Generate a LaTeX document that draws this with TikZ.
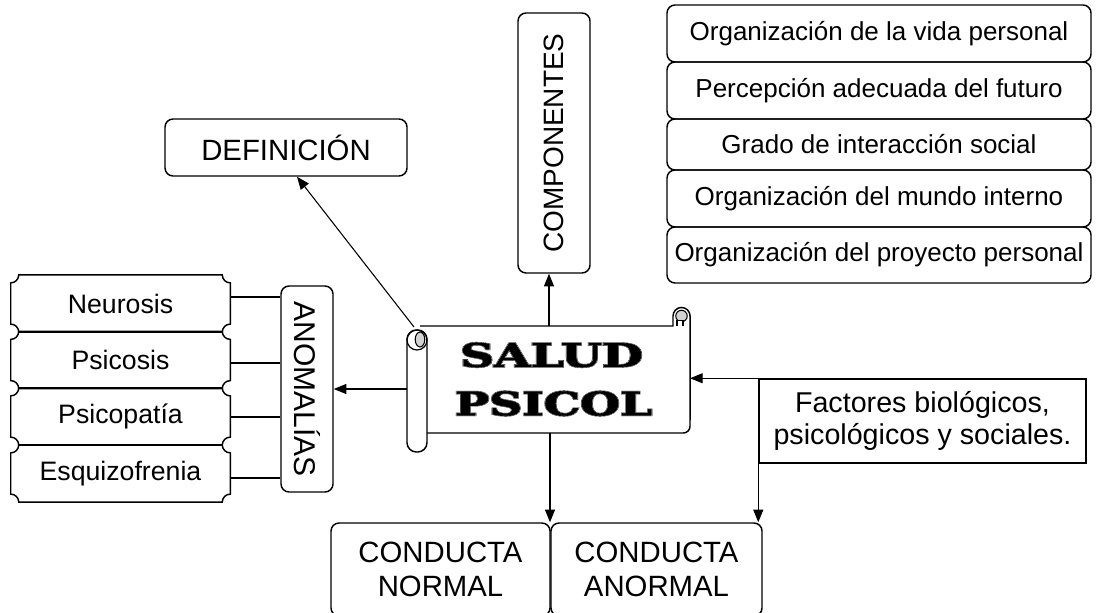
\documentclass[tikz,border=0pt]{standalone}
\usepackage{fontspec}
\setmainfont{Liberation Sans}
\newfontfamily\scrollfont{DejaVu Serif}
\usetikzlibrary{arrows.meta}
\newcommand\sclayer[2]{\scrollfont\bfseries\addfontfeature{FakeBold=#1}#2}
\newcommand\scrolltext[3]{%
  \resizebox{#1}{#2}{\sclayer{5}{#3}}%
  \llap{\resizebox{#1}{#2}{\color{white}\sclayer{3}{#3}}}%
  \llap{\resizebox{#1}{#2}{\sclayer{2}{#3}}}}
\begin{document}
\begin{tikzpicture}[x=0.75pt,y=-0.75pt,
  boxline/.style={line width=1.1pt},
  rbox/.style={draw, line width=1.1pt, rounded corners=6pt, inner sep=0pt, align=center},
  plainbox/.style={inner sep=0pt, align=center},
  bigfont/.style={font=\fontsize{22}{25}\selectfont},
  rightfont/.style={font=\fontsize{19.5}{22}\selectfont},
  leftfont/.style={font=\fontsize{20}{23}\selectfont},
  rightrow/.style={rbox, rightfont, minimum width=318pt},
  leftrow/.style={plainbox, leftfont, minimum width=164.25pt, minimum height=42.5pt},
  conn/.style={line width=0.8pt},
  arr/.style={conn,-{Triangle[length=9.5pt,width=7.5pt]}},
]
\useasboundingbox (0,0) rectangle (1099,613);

% ---- boxes ----
\node[rbox, bigfont, minimum width=181.5pt, minimum height=42.75pt] (defn) at (286,147.5) {DEFINICIÓN};
\node[rbox, minimum width=54pt, minimum height=195pt] (comp) at (554,143)
  {\rotatebox{90}{\fontsize{21}{24}\selectfont COMPONENTES}};
\node[rbox, minimum width=39pt, minimum height=154.5pt] (anom) at (307,389)
  {\rotatebox{-90}{\fontsize{22.5}{25}\selectfont ANOMALÍAS}};

\node[rightrow, minimum height=42.75pt] (r1) at (879,33.5) {Organización de la vida personal};
\node[rightrow, minimum height=42.75pt] (r2) at (879,90.5) {Percepción adecuada del futuro};
\node[rightrow, minimum height=38.25pt] (r3) at (879,144.5) {Grado de interacción social};
\node[rightrow, minimum height=42.75pt] (r4) at (879,198.5) {Organización del mundo interno};
\node[rightrow, minimum height=42pt] (r5) at (879,255) {Organización del proyecto personal};

\node[leftrow] (l1) at (120.5,303.5) {Neurosis};
\node[leftrow] (l2) at (120.5,360) {Psicosis};
\node[leftrow] (l3) at (120.5,416.5) {Psicopatía};
\node[leftrow] (l4) at (120.5,473.5) {Esquizofrenia};
\foreach \n in {l1,l2,l3,l4}{
  \draw[boxline] ([xshift=6pt]\n.north west) -- ([xshift=-6pt]\n.north east)
    arc[start angle=180,end angle=270,radius=6pt]
    -- ([yshift=6pt]\n.south east)
    arc[start angle=90,end angle=180,radius=6pt]
    -- ([xshift=6pt]\n.south west)
    arc[start angle=0,end angle=90,radius=6pt]
    -- ([yshift=-6pt]\n.north west)
    arc[start angle=270,end angle=360,radius=6pt] -- cycle;
}

\node[draw, line width=1.1pt, inner sep=0pt, align=center, minimum width=245.25pt, minimum height=63pt,
  font=\fontsize{21.5}{24}\selectfont] (fac) at (922.5,421)
  {Factores biológicos,\\psicológicos y sociales.};

\node[rbox, bigfont, minimum width=164.25pt, minimum height=69.75pt] (normal) at (440.5,569.5) {CONDUCTA\\NORMAL};
\node[rbox, bigfont, minimum width=158.25pt, minimum height=69.75pt] (anormal) at (656.5,569.5) {CONDUCTA\\ANORMAL};

% ---- scroll ----
\draw[boxline] (420,326) -- (673,326) -- (673,316)
  arc[start angle=180,end angle=0,radius=6.4pt]
  [rounded corners=5pt] -- (690,433) -- (427,433);
\draw[line width=0.8pt, fill=gray!35] (681.5,316) circle (4.3pt);
\draw[line width=0.8pt, fill=white] (677,326) -- (677,320.5) -- (683,320.5) -- (683,326);
\draw[boxline, fill=white, rounded corners=7pt] (407,330) rectangle (427,452);
\draw[line width=0.9pt] (417,340) circle (7.5pt);
\draw[line width=0.8pt, fill=gray!35] (420,339.5) ellipse (3.6pt and 5.6pt);
\node[inner sep=0pt] (t1) at (551.5,355) {\scrolltext{137pt}{18pt}{SALUD}};
\node[inner sep=0pt] (t2) at (553.5,403.5) {\scrolltext{148pt}{18pt}{PSICOL}};

\coordinate (sTop) at (549,326);
\coordinate (sBot) at (550,433);
\coordinate (sCorner) at (414,327);
\coordinate (sLeft) at (407,389);
\coordinate (sRight) at (690,379);

% ---- connectors ----
\draw[arr] (sTop) -- (sTop |- comp.south);
\draw[arr] (sBot) -- (sBot |- normal.north);
\draw[arr] (sCorner) -- ([xshift=8.25pt]defn.south);
\draw[arr] (sLeft) -- (anom.east |- sLeft);
\draw[arr] (fac.north west) -- (sRight |- fac.north west);
\draw[arr] (fac.north west) -- (fac.north west |- anormal.north);

\draw[conn] (l1.east |- 0,297) -- (anom.west |- 0,297);
\draw[conn] (l2.east |- 0,363) -- (anom.west |- 0,363);
\draw[conn] (l3.east |- 0,417) -- (anom.west |- 0,417);
\draw[conn] (l4.east |- 0,478) -- (anom.west |- 0,478);
\end{tikzpicture}
\end{document}
